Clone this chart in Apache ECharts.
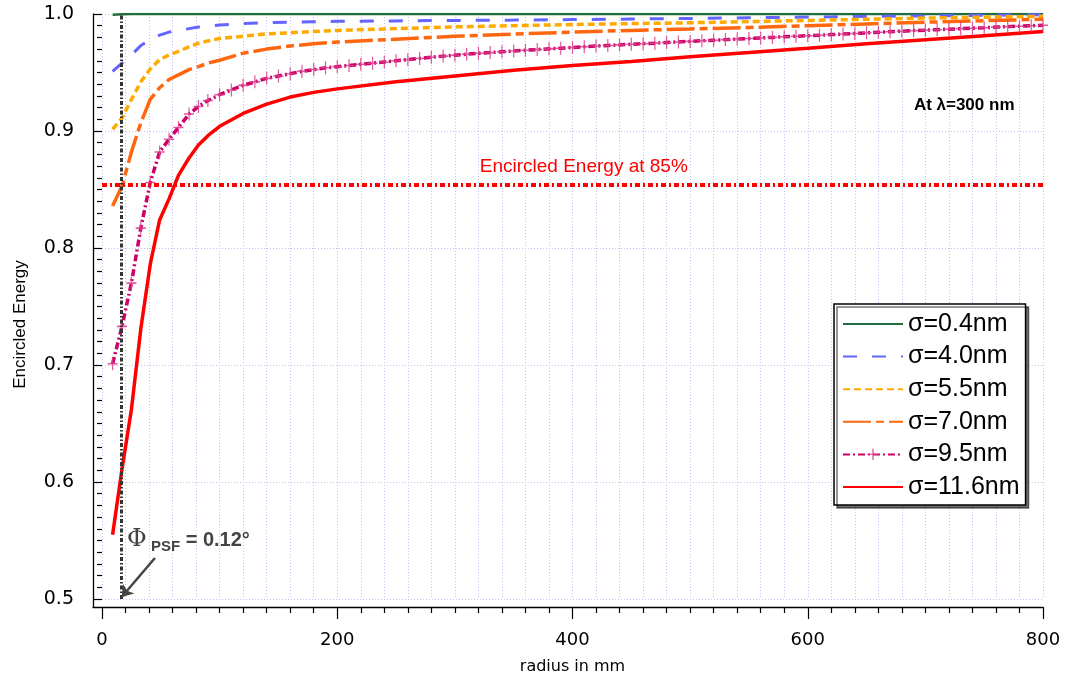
<!DOCTYPE html>
<html>
<head>
<meta charset="utf-8">
<script src="https://cdn.jsdelivr.net/npm/echarts@6/dist/echarts.min.js"></script>
<style>html,body{margin:0;padding:0;background:#fff}#c{width:1066px;height:676px}</style>
</head>
<body>
<div id="c"></div>
<script>
// radius (mm) sample points for the smooth curves
const xSparse = [9,17,25,33,41,49,57,65,74,82,90,100,120,140,160,180,200,250,300,350,400,450,500,550,600,650,700,750,800];
const ee04  = [0.9993,0.9997,1.0,1.0,1.0,1.0,1.0,1.0,1.0,1.0,1.0,1.0,1.0,1.0,1.0,1.0,1.0,1.0,1.0,1.0,1.0,1.0,1.0,1.0,1.0,1.0,1.0,1.0,1.0];
const ee40  = [0.951,0.958,0.965,0.973,0.978,0.982,0.9845,0.986,0.9875,0.9888,0.9897,0.9905,0.9918,0.9925,0.993,0.9934,0.9937,0.9941,0.9945,0.9948,0.9952,0.9957,0.9962,0.9968,0.9974,0.9979,0.9984,0.9989,0.9993];
const ee55  = [0.9015,0.911,0.927,0.942,0.953,0.961,0.965,0.968,0.972,0.975,0.977,0.979,0.981,0.983,0.984,0.985,0.986,0.9875,0.989,0.990,0.991,0.9918,0.9925,0.9935,0.9945,0.9955,0.9965,0.9973,0.998];
const ee70  = [0.836,0.853,0.882,0.907,0.927,0.937,0.944,0.948,0.9525,0.955,0.958,0.9605,0.9665,0.970,0.9727,0.9745,0.976,0.9785,0.981,0.9828,0.9845,0.986,0.9872,0.9885,0.990,0.9915,0.993,0.9943,0.9955];
const ee116 = [0.555,0.611,0.662,0.731,0.786,0.824,0.842,0.862,0.877,0.888,0.896,0.904,0.915,0.923,0.929,0.933,0.936,0.942,0.947,0.952,0.956,0.9595,0.9635,0.967,0.9707,0.9745,0.978,0.9815,0.985];
// radius sample points for the marked curve
const xDense = [9,17,25,33,41,49,57,65,74,82,90,100,110,120,130,140,150,160,170,180,190,200,210,220,230,240,250,260,270,280,290,300,310,320,330,340,350,360,370,380,390,400,410,420,430,440,450,460,470,480,490,500,510,520,530,540,550,560,570,580,590,600,610,620,630,640,650,660,670,680,690,700,710,720,730,740,750,760,770,780,790,800];
const ee95  = [0.701,0.733,0.770,0.817,0.856,0.882,0.893,0.903,0.9145,0.921,0.926,0.931,0.935,0.939,0.942,0.945,0.947,0.949,0.951,0.9525,0.954,0.955,0.956,0.957,0.958,0.959,0.960,0.961,0.962,0.963,0.964,0.9648,0.9656,0.9664,0.967,0.9677,0.9684,0.969,0.9696,0.9702,0.9708,0.9714,0.972,0.9726,0.9731,0.9736,0.9741,0.9746,0.9751,0.9756,0.9761,0.9766,0.9771,0.9776,0.9781,0.9786,0.979,0.9795,0.98,0.9805,0.981,0.9814,0.9819,0.9824,0.9829,0.9834,0.9839,0.9844,0.9849,0.9853,0.9858,0.9862,0.9866,0.987,0.9875,0.9879,0.9883,0.9888,0.9892,0.9896,0.99,0.9904];
const seriesNames = ['σ=0.4nm','σ=4.0nm','σ=5.5nm','σ=7.0nm','σ=9.5nm','σ=11.6nm'];
const yTicks = [0.5,0.6,0.7,0.8,0.9,1.0];
const xTicks = [0,200,400,600,800];
// annotations (data coordinates)
const level85 = 0.854;
const psfRadius = 16.7;
const arrowFrom = [45, 0.535];
const arrowTo = [16.7, 0.5017];
const label85Pos = [409.6, 0.8692];
const lambdaPos = [733, 0.9222];
const phiPos = [73.5, 0.5504];

const pairs = (xs, ys) => xs.map((x, i) => [x, ys[i]]);
const plusPath = 'path://M-1.2,-10L1.2,-10L1.2,-1.2L10,-1.2L10,1.2L1.2,1.2L1.2,10L-1.2,10L-1.2,1.2L-10,1.2L-10,-1.2L-1.2,-1.2Z';
const gridLine = {show:true, lineStyle:{color:'#c2c2f2', type:[1,2], width:1}};

const chart = echarts.init(document.getElementById('c'), null, {renderer:'canvas'});
const option = {
  animation: false,
  backgroundColor: '#fff',
  grid: [
    {left:102, right:23, top:14, bottom:77, containLabel:false, outerBoundsMode:'none'},
    {left:93, right:23, top:14, bottom:69, containLabel:false, outerBoundsMode:'none'}
  ],
  xAxis: [
    {type:'value', gridIndex:0, min:xTicks[0], max:xTicks[xTicks.length-1], interval:200, offset:8,
     axisLine:{show:false},
     axisTick:{length:12, lineStyle:{color:'#000', width:1.2}},
     minorTick:{show:true, splitNumber:10, length:6, lineStyle:{color:'#000', width:1.2}},
     axisLabel:{fontSize:18, fontFamily:'DejaVu Sans', color:'#000', margin:24},
     splitLine:gridLine, minorSplitLine:gridLine,
     name:'radius in mm', nameLocation:'middle', nameGap:52,
     nameTextStyle:{fontSize:16, fontFamily:'DejaVu Sans', color:'#000'}},
    {type:'value', gridIndex:1, min:0, max:1, axisLine:{show:true, lineStyle:{color:'#000', width:1.3}},
     axisTick:{show:false}, axisLabel:{show:false}, splitLine:{show:false}}
  ],
  yAxis: [
    {type:'value', gridIndex:0, min:yTicks[0], max:yTicks[yTicks.length-1], interval:0.1, offset:9,
     axisLine:{show:false},
     axisTick:{length:9, lineStyle:{color:'#000', width:1.2}},
     minorTick:{show:true, splitNumber:10, length:5, lineStyle:{color:'#000', width:1.2}},
     axisLabel:{fontSize:19, fontFamily:'DejaVu Sans', color:'#000', margin:19, formatter:v=>v.toFixed(1)},
     splitLine:gridLine,
     name:'Encircled Energy', nameLocation:'middle', nameGap:64,
     nameTextStyle:{fontSize:17, fontFamily:'Liberation Sans', color:'#000', padding:[0,36,0,0]}},
    {type:'value', gridIndex:1, min:0, max:1, axisLine:{show:true, lineStyle:{color:'#000', width:1.3}},
     axisTick:{show:false}, axisLabel:{show:false}, splitLine:{show:false}}
  ],
  legend: {
    orient:'vertical', left:834, top:304,
    data: seriesNames.map((n, i) => i === 4 ? {name:n} : {name:n, itemStyle:{opacity:0}}),
    itemWidth:60, itemHeight:14, itemGap:4.6,
    padding:[6,6,4,8],
    backgroundColor:'#fff', borderColor:'#000', borderWidth:1.5, borderRadius:0,
    shadowColor:'rgba(0,0,0,0.55)', shadowBlur:0, shadowOffsetX:3, shadowOffsetY:3,
    textStyle:{fontSize:25, fontFamily:'Liberation Sans', color:'#000', lineHeight:28}
  },
  series: [
    {name:seriesNames[0], type:'line', symbol:'none', data:pairs(xSparse, ee04),
     lineStyle:{color:'#1f6e3f', width:2.5}, itemStyle:{color:'#1f6e3f'}, z:3},
    {name:seriesNames[1], type:'line', symbol:'none', data:pairs(xSparse, ee40),
     lineStyle:{color:'#6464ff', width:3, type:[14,15]}, itemStyle:{color:'#6464ff'}, z:3},
    {name:seriesNames[2], type:'line', symbol:'none', data:pairs(xSparse, ee55),
     lineStyle:{color:'#ffaa00', width:3.5, type:[7,4]}, itemStyle:{color:'#ffaa00'}, z:3},
    {name:seriesNames[3], type:'line', symbol:'none', data:pairs(xSparse, ee70),
     lineStyle:{color:'#ff6610', width:3.5, type:[28,5,8,5]}, itemStyle:{color:'#ff6610'}, z:3},
    {name:seriesNames[4], type:'line', symbol:plusPath, symbolSize:[10,13], showSymbol:true,
     data:pairs(xDense, ee95),
     lineStyle:{color:'#cc0066', width:3.5, type:[7,3,2,3]},
     itemStyle:{color:'rgba(218,60,140,0.85)', borderWidth:0}, z:3},
    {name:seriesNames[5], type:'line', symbol:'none', data:pairs(xSparse, ee116),
     lineStyle:{color:'#ff0000', width:3.5}, itemStyle:{color:'#ff0000'}, z:3},
    {name:'annotations', type:'line', data:[], z:6, silent:true,
     markLine:{
       silent:true, animation:false, precision:4, symbol:['none','none'], label:{show:false},
       data:[
         {yAxis:level85, lineStyle:{color:'#ff0000', width:4, type:[5,3,2,3]}},
         {xAxis:psfRadius, lineStyle:{color:'#333', width:3, type:[4,2,1.5,2]}},
         [{coord:arrowFrom, symbol:'none', lineStyle:{color:'#444', width:2.5, type:'solid'}},
          {coord:arrowTo, symbol:'arrow', symbolSize:11}]
       ]
     },
     markPoint:{
       silent:true, animation:false, symbol:'circle', symbolSize:0,
       data:[
         {coord:label85Pos, label:{show:true, position:'inside', formatter:'Encircled Energy at 85%',
           color:'#ff0000', fontSize:19, fontFamily:'Liberation Sans'}},
         {coord:lambdaPos, label:{show:true, position:'inside', formatter:'At λ=300 nm',
           color:'#000', fontSize:17, fontWeight:'bold', fontFamily:'Liberation Sans'}},
         {coord:phiPos, label:{show:true, position:'inside',
           formatter:'{phi|Φ}{sub| PSF}{eq| = 0.12°}',
           rich:{
             phi:{fontSize:24, fontFamily:'DejaVu Serif', color:'#444', verticalAlign:'middle', lineHeight:28},
             sub:{fontSize:15, fontWeight:'bold', fontFamily:'Liberation Sans', color:'#444', verticalAlign:'bottom', lineHeight:28},
             eq:{fontSize:20, fontWeight:'bold', fontFamily:'Liberation Sans', color:'#444', verticalAlign:'middle', lineHeight:28}
           }}}
       ]
     }}
  ]
};
chart.setOption(option);
</script>
</body>
</html>
